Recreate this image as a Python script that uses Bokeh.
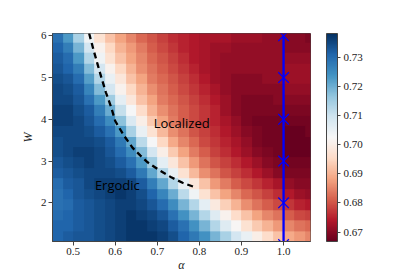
import numpy as np
from bokeh.plotting import figure
from bokeh.models import (Range1d, LinearColorMapper, ColorBar, FixedTicker,
                          NumeralTickFormatter, Label)
from bokeh.embed import file_html
from bokeh.resources import INLINE

# ---- data -------------------------------------------------------------
alpha_left, alpha_cell = 0.45, 0.025      # 25 columns of alpha
w_bottom, w_cell = 1.075, 0.25            # 20 rows of W
# observable values x1000, rows listed from top (W~5.95) down to W~1.2
rows_top_down = [
    [729,723,714,704,697,692,688,685,682,680,678,676,675,674,673,673,673,672,672,672,671,671,670,670,669],
    [731,727,719,709,701,695,690,687,684,681,679,677,675,674,673,672,672,671,671,671,671,671,670,670,670],
    [732,730,723,713,704,697,692,688,685,682,680,678,676,674,673,672,671,671,671,671,671,671,671,671,671],
    [733,731,727,718,709,701,695,690,686,683,681,679,677,675,673,672,671,671,671,671,671,671,672,672,672],
    [734,733,730,722,713,705,698,692,688,684,682,680,678,676,674,672,671,670,670,670,671,671,672,672,672],
    [735,734,732,726,718,709,701,695,690,686,683,681,679,677,675,673,671,670,670,670,670,670,671,671,671],
    [735,735,733,729,723,715,706,698,692,688,684,682,680,678,676,674,672,670,669,669,669,670,670,670,670],
    [736,736,734,732,727,720,711,703,696,690,686,683,681,679,677,675,672,670,669,669,669,669,669,669,669],
    [736,736,735,733,730,725,717,708,700,693,688,684,681,679,677,675,673,671,669,668,668,668,668,668,668],
    [735,735,735,734,732,729,723,714,705,697,691,686,683,680,678,676,674,672,670,669,668,668,667,667,668],
    [734,735,735,735,734,732,728,721,712,703,695,689,685,682,679,677,675,673,671,669,668,668,667,667,667],
    [734,735,736,736,735,733,730,725,718,709,700,693,688,684,681,678,676,674,672,670,669,668,667,667,667],
    [733,734,735,736,735,734,732,729,723,715,706,698,692,687,683,680,678,676,674,672,670,669,668,668,668],
    [732,733,734,735,735,735,734,732,728,721,713,705,697,691,686,683,680,678,676,674,672,670,669,669,669],
    [730,732,733,735,736,736,736,735,732,727,721,713,705,698,692,687,684,681,679,677,675,673,671,670,670],
    [729,731,733,734,735,736,737,736,734,731,726,720,712,704,697,692,688,685,682,680,678,676,674,672,671],
    [729,730,732,733,734,735,736,736,735,733,730,725,719,713,706,699,694,690,686,683,681,679,677,675,674],
    [730,731,732,733,734,735,736,737,736,735,733,729,724,719,713,707,701,696,692,688,685,683,681,679,678],
    [731,731,732,733,734,735,736,737,737,736,735,732,729,724,719,713,707,702,697,693,690,687,685,683,682],
    [731,732,733,733,734,735,736,737,737,737,736,734,731,728,724,719,714,709,705,700,696,692,689,687,685],
]
# dashed boundary curve
line_alpha = [0.538, 0.548, 0.558, 0.568, 0.578, 0.590, 0.600, 0.620, 0.641, 0.660, 0.677, 0.705, 0.733, 0.760, 0.790]
line_w     = [6.06, 5.68, 5.32, 4.97, 4.64, 4.30, 3.96, 3.62, 3.32, 3.13, 2.97, 2.78, 2.61, 2.48, 2.37]
# blue crosses at alpha = 1
cross_alpha = [1.0, 1.0, 1.0, 1.0, 1.0, 1.0]
cross_w     = [1, 2, 3, 4, 5, 6]
x_ticks = [0.5, 0.6, 0.7, 0.8, 0.9, 1.0]
y_ticks = [2, 3, 4, 5, 6]
cbar_ticks = [0.67, 0.68, 0.69, 0.70, 0.71, 0.72, 0.73]
vmin, vmax = 0.6668, 0.7381

# ---- palette (RdBu, red = low) ---------------------------------------
anchors = ["#67001f", "#b2182b", "#d6604d", "#f4a582", "#fddbc7", "#f7f7f7",
           "#d1e5f0", "#92c5de", "#4393c3", "#2166ac", "#053061"]
rgb = np.array([[int(h[i:i + 2], 16) for i in (1, 3, 5)] for h in anchors], float)
t = np.linspace(0, 1, 256)
pos = np.linspace(0, 1, len(anchors))
pal = ["#%02x%02x%02x" % tuple(int(round(np.interp(tt, pos, rgb[:, k]))) for k in range(3)) for tt in t]

mapper = LinearColorMapper(palette=pal, low=vmin, high=vmax)

grid = np.array(rows_top_down[::-1], dtype=float) / 1000.0
n_rows, n_cols = grid.shape

serif = "Liberation Serif"
p = figure(frame_width=258, frame_height=208, output_backend="svg", toolbar_location=None,
           x_range=Range1d(0.451, 1.064), y_range=Range1d(1.073, 6.055),
           min_border_left=52, min_border_top=33, min_border_bottom=29, min_border_right=10)

p.image(image=[grid], x=alpha_left, y=w_bottom, dw=n_cols * alpha_cell, dh=n_rows * w_cell,
        color_mapper=mapper)

p.line(line_alpha, line_w, line_color="black", line_width=2.3, line_dash="6 4")
p.line(cross_alpha, cross_w, line_color="#0000ff", line_width=2.3)
p.scatter(cross_alpha, cross_w, marker="x", size=15, line_color="#0000ff", line_width=1.2)

p.add_layout(Label(x=0.758, y=3.92, text="Localized", text_align="center", text_baseline="middle",
                   text_font="Open Sans", text_font_size="13px", text_color="black"))
p.add_layout(Label(x=0.605, y=2.42, text="Ergodic", text_align="center", text_baseline="middle",
                   text_font="Open Sans", text_font_size="13px", text_color="black"))

p.xgrid.visible = False
p.ygrid.visible = False
p.outline_line_color = "#444444"
p.outline_line_width = 1
for ax in (p.xaxis, p.yaxis):
    ax.major_tick_in = 0
    ax.major_tick_out = 4
    ax.minor_tick_line_color = None
    ax.axis_line_color = "#444444"
    ax.major_tick_line_color = "#444444"
    ax.major_label_text_font = serif
    ax.major_label_text_font_size = "11px"
    ax.major_label_text_color = "#222222"
    ax.axis_label_text_font = serif
    ax.axis_label_text_font_style = "italic"
    ax.axis_label_text_font_size = "12px"
    ax.axis_label_text_color = "#222222"
p.xaxis.ticker = FixedTicker(ticks=x_ticks)
p.xaxis.formatter = NumeralTickFormatter(format="0.0")
p.yaxis.ticker = FixedTicker(ticks=y_ticks)
p.xaxis.axis_label = "α"
p.yaxis.axis_label = "W"
p.xaxis.major_label_standoff = 2
p.xaxis.axis_label_standoff = 0
p.yaxis.major_label_standoff = 2
p.yaxis.axis_label_standoff = 3

cb = ColorBar(color_mapper=mapper, ticker=FixedTicker(ticks=cbar_ticks),
              formatter=NumeralTickFormatter(format="0.00"), width=11, height=208,
              padding=0, margin=0, location=(16, 0),
              bar_line_color="#444444", major_tick_in=0, major_tick_out=3,
              major_tick_line_color="#444444", minor_tick_line_color=None,
              major_label_text_font=serif, major_label_text_font_size="11px",
              major_label_text_color="#222222", label_standoff=3,
              background_fill_alpha=0, border_line_color=None)
p.add_layout(cb, "right")

open("out.html", "w").write(file_html(p, INLINE))
